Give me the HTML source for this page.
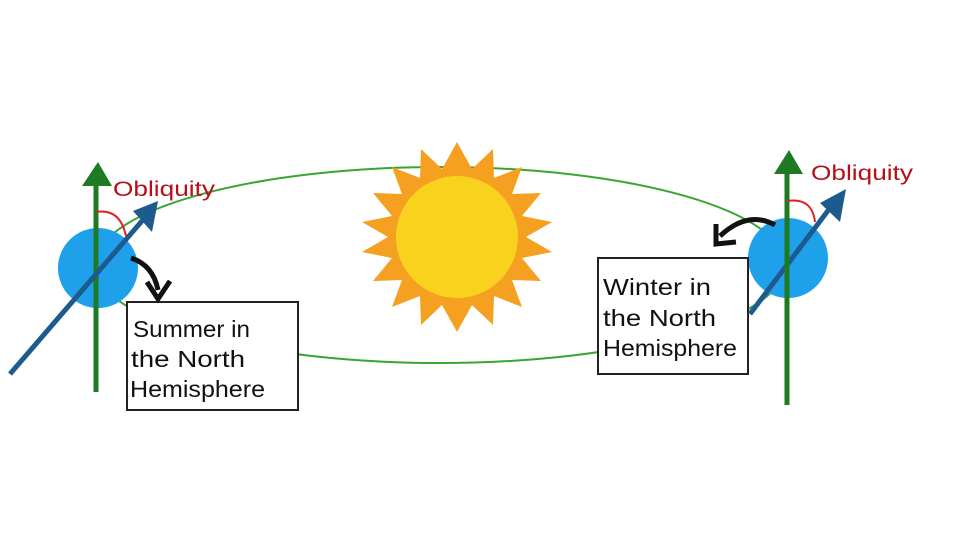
<!DOCTYPE html>
<html><head><meta charset="utf-8"><style>
html,body{margin:0;padding:0;background:#fff;width:970px;height:543px;overflow:hidden}
svg{display:block}
text{font-family:"Comic Sans MS","Liberation Sans",sans-serif}
</style></head><body>
<svg width="970" height="543" viewBox="0 0 970 543" xmlns="http://www.w3.org/2000/svg">
<ellipse cx="440" cy="265" rx="345" ry="98" fill="none" stroke="#3aa535" stroke-width="2"/>
<g id="sun">
<polygon fill="#f5a020" points="
457,142 472,169 493,149 494,178 522,167 512,194 541,193 522,216 552,222 526,237 552,252 522,258 541,281 512,280 522,307 494,296 493,325 472,305 457,332 442,305 421,325 420,296 392,307 402,280 373,281 392,258 362,252 388,237 362,222 392,216 373,193 402,194 392,167 420,178 421,149 442,169"/>
<circle cx="457" cy="237" r="61" fill="#f8d21c"/>
</g>
<!-- left earth -->
<rect x="127" y="302" width="171" height="108" fill="#fff" stroke="#222" stroke-width="2"/>
<text font-size="23" fill="#111"><tspan x="133" y="337" textLength="117" lengthAdjust="spacingAndGlyphs">Summer in</tspan><tspan x="131" y="367" textLength="114" lengthAdjust="spacingAndGlyphs">the North</tspan><tspan x="130" y="397" textLength="135" lengthAdjust="spacingAndGlyphs">Hemisphere</tspan></text>
<circle cx="98" cy="268" r="40" fill="#1fa0ea"/>
<line x1="96" y1="170" x2="96" y2="392" stroke="#1e7a23" stroke-width="5"/>
<polygon points="98,162 82,186 112,186" fill="#1e7a23"/>
<line x1="10" y1="374" x2="148" y2="214" stroke="#1d5a8e" stroke-width="5"/>
<polygon points="158,201 133,211 152,232" fill="#1d5a8e"/>
<path d="M96,212 Q120,208 126,236" fill="none" stroke="#e02020" stroke-width="2"/>
<text x="113" y="196" font-size="21" fill="#b5101a" textLength="102" lengthAdjust="spacingAndGlyphs">Obliquity</text>
<path d="M131,258 Q153,265 158,290" fill="none" stroke="#111" stroke-width="5"/>
<polyline points="147,282 158,299 170,281" fill="none" stroke="#111" stroke-width="5"/>
<!-- right earth -->
<circle cx="788" cy="258" r="40" fill="#1fa0ea"/>
<rect x="598" y="258" width="150" height="116" fill="#fff" stroke="#222" stroke-width="2"/>
<text font-size="23" fill="#111"><tspan x="603" y="295" textLength="108" lengthAdjust="spacingAndGlyphs">Winter in</tspan><tspan x="603" y="326" textLength="113" lengthAdjust="spacingAndGlyphs">the North</tspan><tspan x="603" y="356" textLength="134" lengthAdjust="spacingAndGlyphs">Hemisphere</tspan></text>
<line x1="750" y1="314" x2="836" y2="200" stroke="#1d5a8e" stroke-width="5"/>
<polygon points="846,189 820,203 840,222" fill="#1d5a8e"/>
<line x1="787" y1="160" x2="787" y2="405" stroke="#1e7a23" stroke-width="5"/>
<polygon points="789,150 774,174 803,174" fill="#1e7a23"/>
<path d="M787,201 Q812,197 815,222" fill="none" stroke="#e02020" stroke-width="2"/>
<text x="811" y="180" font-size="21" fill="#b5101a" textLength="102" lengthAdjust="spacingAndGlyphs">Obliquity</text>
<path d="M775,225 Q748,210 720,236" fill="none" stroke="#111" stroke-width="5"/>
<polyline points="716,224 716,244 736,242" fill="none" stroke="#111" stroke-width="5"/>
</svg>
</body></html>
